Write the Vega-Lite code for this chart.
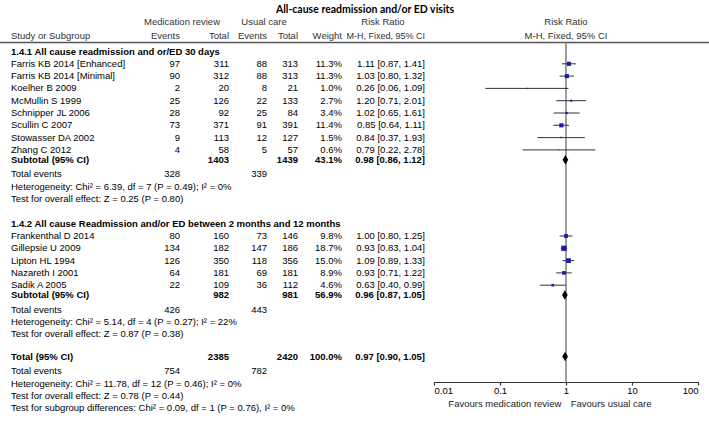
{
  "$schema": "https://vega.github.io/schema/vega-lite/v6.json",
  "width": 709,
  "height": 422,
  "padding": 0,
  "autosize": "none",
  "background": "white",
  "config": {
    "view": {"stroke": null},
    "text": {"font": "Liberation Sans", "fontSize": 9.5, "baseline": "middle", "color": "#000000"},
    "axisX": {"grid": false, "domainColor": "#333333", "domainWidth": 1.2, "tickColor": "#333333", "tickWidth": 1.2, "tickSize": 3, "labelFont": "Liberation Sans", "labelFontSize": 9.5, "labelColor": "#000000", "labelPadding": 0, "labelFlush": true}
  },
  "datasets": {
    "rows": [
      {"row": -1.26, "kind": "header", "bold": false, "label": "Study or Subgroup", "e1": "Events", "t1": "Total", "e2": "Events", "t2": "Total", "w": "Weight", "ci": "M-H, Fixed, 95% CI"},
      {"row": 0, "kind": "heading", "bold": true, "label": "1.4.1 All cause readmission and or/ED 30 days"},
      {"row": 1, "kind": "study", "bold": false, "label": "Farris KB 2014 [Enhanced]", "e1": 97, "t1": 311, "e2": 88, "t2": 313, "w": "11.3%", "wt": 11.3, "ci": "1.11 [0.87, 1.41]", "rr": 1.11, "lo": 0.87, "hi": 1.41},
      {"row": 2, "kind": "study", "bold": false, "label": "Farris KB 2014 [Minimal]", "e1": 90, "t1": 312, "e2": 88, "t2": 313, "w": "11.3%", "wt": 11.3, "ci": "1.03 [0.80, 1.32]", "rr": 1.03, "lo": 0.80, "hi": 1.32},
      {"row": 3, "kind": "study", "bold": false, "label": "Koelher B 2009", "e1": 2, "t1": 20, "e2": 8, "t2": 21, "w": "1.0%", "wt": 1.0, "ci": "0.26 [0.06, 1.09]", "rr": 0.26, "lo": 0.06, "hi": 1.09},
      {"row": 4, "kind": "study", "bold": false, "label": "McMullin S 1999", "e1": 25, "t1": 126, "e2": 22, "t2": 133, "w": "2.7%", "wt": 2.7, "ci": "1.20 [0.71, 2.01]", "rr": 1.20, "lo": 0.71, "hi": 2.01},
      {"row": 5, "kind": "study", "bold": false, "label": "Schnipper JL 2006", "e1": 28, "t1": 92, "e2": 25, "t2": 84, "w": "3.4%", "wt": 3.4, "ci": "1.02 [0.65, 1.61]", "rr": 1.02, "lo": 0.65, "hi": 1.61},
      {"row": 6, "kind": "study", "bold": false, "label": "Scullin C 2007", "e1": 73, "t1": 371, "e2": 91, "t2": 391, "w": "11.4%", "wt": 11.4, "ci": "0.85 [0.64, 1.11]", "rr": 0.85, "lo": 0.64, "hi": 1.11},
      {"row": 7, "kind": "study", "bold": false, "label": "Stowasser DA 2002", "e1": 9, "t1": 113, "e2": 12, "t2": 127, "w": "1.5%", "wt": 1.5, "ci": "0.84 [0.37, 1.93]", "rr": 0.84, "lo": 0.37, "hi": 1.93},
      {"row": 8, "kind": "study", "bold": false, "label": "Zhang C 2012", "e1": 4, "t1": 58, "e2": 5, "t2": 57, "w": "0.6%", "wt": 0.6, "ci": "0.79 [0.22, 2.78]", "rr": 0.79, "lo": 0.22, "hi": 2.78},
      {"row": 8.8, "kind": "subtotal", "bold": true, "label": "Subtotal (95% CI)", "t1": 1403, "t2": 1439, "w": "43.1%", "ci": "0.98 [0.86, 1.12]", "rr": 0.98, "lo": 0.86, "hi": 1.12},
      {"row": 10, "kind": "events", "bold": false, "label": "Total events", "e1": 328, "e2": 339},
      {"row": 11, "kind": "note", "bold": false, "label": "Heterogeneity: Chi² = 6.39, df = 7 (P = 0.49); I² = 0%"},
      {"row": 12, "kind": "note", "bold": false, "label": "Test for overall effect: Z = 0.25 (P = 0.80)"},
      {"row": 14, "kind": "heading", "bold": true, "label": "1.4.2 All cause Readmission and/or ED between 2 months and 12 months"},
      {"row": 15, "kind": "study", "bold": false, "label": "Frankenthal D 2014", "e1": 80, "t1": 160, "e2": 73, "t2": 146, "w": "9.8%", "wt": 9.8, "ci": "1.00 [0.80, 1.25]", "rr": 1.00, "lo": 0.80, "hi": 1.25},
      {"row": 16, "kind": "study", "bold": false, "label": "Gillepsie U 2009", "e1": 134, "t1": 182, "e2": 147, "t2": 186, "w": "18.7%", "wt": 18.7, "ci": "0.93 [0.83, 1.04]", "rr": 0.93, "lo": 0.83, "hi": 1.04},
      {"row": 17, "kind": "study", "bold": false, "label": "Lipton HL 1994", "e1": 126, "t1": 350, "e2": 118, "t2": 356, "w": "15.0%", "wt": 15.0, "ci": "1.09 [0.89, 1.33]", "rr": 1.09, "lo": 0.89, "hi": 1.33},
      {"row": 18, "kind": "study", "bold": false, "label": "Nazareth I 2001", "e1": 64, "t1": 181, "e2": 69, "t2": 181, "w": "8.9%", "wt": 8.9, "ci": "0.93 [0.71, 1.22]", "rr": 0.93, "lo": 0.71, "hi": 1.22},
      {"row": 19, "kind": "study", "bold": false, "label": "Sadik A 2005", "e1": 22, "t1": 109, "e2": 36, "t2": 112, "w": "4.6%", "wt": 4.6, "ci": "0.63 [0.40, 0.99]", "rr": 0.63, "lo": 0.40, "hi": 0.99},
      {"row": 19.8, "kind": "subtotal", "bold": true, "label": "Subtotal (95% CI)", "t1": 982, "t2": 981, "w": "56.9%", "ci": "0.96 [0.87, 1.05]", "rr": 0.96, "lo": 0.87, "hi": 1.05},
      {"row": 21, "kind": "events", "bold": false, "label": "Total events", "e1": 426, "e2": 443},
      {"row": 22, "kind": "note", "bold": false, "label": "Heterogeneity: Chi² = 5.14, df = 4 (P = 0.27); I² = 22%"},
      {"row": 23, "kind": "note", "bold": false, "label": "Test for overall effect: Z = 0.87 (P = 0.38)"},
      {"row": 24.8, "kind": "total", "bold": true, "label": "Total (95% CI)", "t1": 2385, "t2": 2420, "w": "100.0%", "ci": "0.97 [0.90, 1.05]", "rr": 0.97, "lo": 0.90, "hi": 1.05},
      {"row": 26, "kind": "events", "bold": false, "label": "Total events", "e1": 754, "e2": 782},
      {"row": 27, "kind": "note", "bold": false, "label": "Heterogeneity: Chi² = 11.78, df = 12 (P = 0.46); I² = 0%"},
      {"row": 28, "kind": "note", "bold": false, "label": "Test for overall effect: Z = 0.78 (P = 0.44)"},
      {"row": 29, "kind": "note", "bold": false, "label": "Test for subgroup differences: Chi² = 0.09, df = 1 (P = 0.76), I² = 0%"}
    ]
  },
  "data": {"name": "rows"},
  "layer": [
    {
      "layer": [
        {
          "data": {"values": [{"t": "All-cause readmission and/or ED visits"}]},
          "mark": {"type": "text", "align": "center", "font": "Lato", "fontSize": 10.5, "fontWeight": "bold"},
          "encoding": {
            "x": {"datum": 10, "type": "quantitative", "scale": {"type": "linear", "domain": [0, 1, 2, 3, 4, 5, 6, 7, 8, 9, 10], "range": [11, 180, 229, 267, 298, 342, 425, 182, 264, 383, 365], "zero": false, "nice": false}, "axis": null},
            "y": {"datum": -3.4, "type": "quantitative", "scale": {"domain": [-4.187, 30.122], "range": [0, 422], "zero": false, "nice": false}, "axis": null},
            "text": {"field": "t"}
          }
        },
        {
          "data": {"values": [{"t": "Medication review"}]},
          "mark": {"type": "text", "align": "center", "color": "#333333"},
          "encoding": {
            "x": {"datum": 7, "type": "quantitative", "axis": null},
            "y": {"datum": -2.4, "type": "quantitative", "axis": null},
            "text": {"field": "t"}
          }
        },
        {
          "data": {"values": [{"t": "Usual care"}]},
          "mark": {"type": "text", "align": "center", "color": "#333333"},
          "encoding": {
            "x": {"datum": 8, "type": "quantitative", "axis": null},
            "y": {"datum": -2.4, "type": "quantitative", "axis": null},
            "text": {"field": "t"}
          }
        },
        {
          "data": {"values": [{"t": "Risk Ratio"}]},
          "mark": {"type": "text", "align": "center", "color": "#333333"},
          "encoding": {
            "x": {"datum": 9, "type": "quantitative", "axis": null},
            "y": {"datum": -2.4, "type": "quantitative", "axis": null},
            "text": {"field": "t"}
          }
        },
        {
          "data": {"values": [{}]},
          "mark": {"type": "rule", "color": "#555555", "strokeWidth": 1.5},
          "encoding": {
            "y": {"datum": -0.73, "type": "quantitative", "axis": null}
          }
        },
        {
          "mark": {"type": "text", "align": "left", "fontWeight": {"expr": "datum.bold ? 'bold' : 'normal'"}},
          "encoding": {
            "x": {"datum": 0, "type": "quantitative", "axis": null},
            "y": {"field": "row", "type": "quantitative", "axis": null},
            "text": {"field": "label"},
            "color": {"condition": {"test": "datum.kind === 'header'", "value": "#333333"}, "value": "#000000"}
          }
        },
        {
          "transform": [{"filter": "isValid(datum.e1)"}],
          "mark": {"type": "text", "align": "right", "fontWeight": {"expr": "datum.bold ? 'bold' : 'normal'"}},
          "encoding": {
            "x": {"datum": 1, "type": "quantitative", "axis": null},
            "y": {"field": "row", "type": "quantitative", "axis": null},
            "text": {"field": "e1"},
            "color": {"condition": {"test": "datum.kind === 'header'", "value": "#333333"}, "value": "#000000"}
          }
        },
        {
          "transform": [{"filter": "isValid(datum.t1)"}],
          "mark": {"type": "text", "align": "right", "fontWeight": {"expr": "datum.bold ? 'bold' : 'normal'"}},
          "encoding": {
            "x": {"datum": 2, "type": "quantitative", "axis": null},
            "y": {"field": "row", "type": "quantitative", "axis": null},
            "text": {"field": "t1"},
            "color": {"condition": {"test": "datum.kind === 'header'", "value": "#333333"}, "value": "#000000"}
          }
        },
        {
          "transform": [{"filter": "isValid(datum.e2)"}],
          "mark": {"type": "text", "align": "right", "fontWeight": {"expr": "datum.bold ? 'bold' : 'normal'"}},
          "encoding": {
            "x": {"datum": 3, "type": "quantitative", "axis": null},
            "y": {"field": "row", "type": "quantitative", "axis": null},
            "text": {"field": "e2"},
            "color": {"condition": {"test": "datum.kind === 'header'", "value": "#333333"}, "value": "#000000"}
          }
        },
        {
          "transform": [{"filter": "isValid(datum.t2)"}],
          "mark": {"type": "text", "align": "right", "fontWeight": {"expr": "datum.bold ? 'bold' : 'normal'"}},
          "encoding": {
            "x": {"datum": 4, "type": "quantitative", "axis": null},
            "y": {"field": "row", "type": "quantitative", "axis": null},
            "text": {"field": "t2"},
            "color": {"condition": {"test": "datum.kind === 'header'", "value": "#333333"}, "value": "#000000"}
          }
        },
        {
          "transform": [{"filter": "isValid(datum.w)"}],
          "mark": {"type": "text", "align": "right", "fontWeight": {"expr": "datum.bold ? 'bold' : 'normal'"}},
          "encoding": {
            "x": {"datum": 5, "type": "quantitative", "axis": null},
            "y": {"field": "row", "type": "quantitative", "axis": null},
            "text": {"field": "w"},
            "color": {"condition": {"test": "datum.kind === 'header'", "value": "#333333"}, "value": "#000000"}
          }
        },
        {
          "transform": [{"filter": "isValid(datum.ci)"}],
          "mark": {"type": "text", "align": "right", "fontWeight": {"expr": "datum.bold ? 'bold' : 'normal'"}, "fontSize": {"expr": "datum.kind === 'header' ? 9 : 9.5"}},
          "encoding": {
            "x": {"datum": 6, "type": "quantitative", "axis": null},
            "y": {"field": "row", "type": "quantitative", "axis": null},
            "text": {"field": "ci"},
            "color": {"condition": {"test": "datum.kind === 'header'", "value": "#333333"}, "value": "#000000"}
          }
        }
      ]
    },
    {
      "layer": [
        {
          "data": {"values": [{}]},
          "mark": {"type": "rule", "color": "#7f7f7f", "strokeWidth": 1.5},
          "encoding": {
            "x": {"datum": 1, "type": "quantitative", "scale": {"type": "log", "domain": [0.01, 100], "range": [434, 698], "nice": false}, "axis": {"title": null, "values": [0.01, 0.1, 1, 10, 100], "format": "~g", "offset": -40}},
            "y": {"datum": -0.73, "type": "quantitative", "axis": null},
            "y2": {"datum": 26.87}
          }
        },
        {
          "transform": [{"filter": "datum.kind === 'study'"}],
          "mark": {"type": "rule", "color": "#333333", "strokeWidth": 1},
          "encoding": {
            "x": {"field": "lo", "type": "quantitative", "axis": {"title": null, "values": [0.01, 0.1, 1, 10, 100], "format": "~g", "offset": -40}},
            "x2": {"field": "hi"},
            "y": {"field": "row", "type": "quantitative", "axis": null}
          }
        },
        {
          "transform": [{"filter": "datum.kind === 'study'"}],
          "mark": {"type": "point", "shape": "square", "filled": true, "color": "#1c1ca6", "opacity": 1, "strokeWidth": 0},
          "encoding": {
            "x": {"field": "rr", "type": "quantitative", "axis": {"title": null, "values": [0.01, 0.1, 1, 10, 100], "format": "~g", "offset": -40}},
            "y": {"field": "row", "type": "quantitative", "axis": null},
            "size": {"field": "wt", "type": "quantitative", "scale": {"domain": [0, 18.7], "range": [0, 28], "zero": true}, "legend": null}
          }
        },
        {
          "transform": [{"filter": "datum.kind === 'subtotal' || datum.kind === 'total'"}],
          "mark": {"type": "point", "shape": "M-0.6,0L0,-1L0.6,0L0,1Z", "filled": true, "color": "#000000", "opacity": 1, "size": 90, "strokeWidth": 0},
          "encoding": {
            "x": {"field": "rr", "type": "quantitative", "axis": {"title": null, "values": [0.01, 0.1, 1, 10, 100], "format": "~g", "offset": -40}},
            "y": {"field": "row", "type": "quantitative", "axis": null}
          }
        },
        {
          "data": {"values": [{"t": "Risk Ratio"}]},
          "mark": {"type": "text", "align": "center", "color": "#333333"},
          "encoding": {
            "x": {"datum": 1, "type": "quantitative", "axis": {"title": null, "values": [0.01, 0.1, 1, 10, 100], "format": "~g", "offset": -40}},
            "y": {"datum": -2.4, "type": "quantitative", "axis": null},
            "text": {"field": "t"}
          }
        },
        {
          "data": {"values": [{"t": "M-H, Fixed, 95% CI"}]},
          "mark": {"type": "text", "align": "center", "color": "#333333"},
          "encoding": {
            "x": {"datum": 1, "type": "quantitative", "axis": {"title": null, "values": [0.01, 0.1, 1, 10, 100], "format": "~g", "offset": -40}},
            "y": {"datum": -1.26, "type": "quantitative", "axis": null},
            "text": {"field": "t"}
          }
        },
        {
          "data": {"values": [{"t": "Favours medication review"}]},
          "mark": {"type": "text", "align": "right", "color": "#222222"},
          "encoding": {
            "x": {"datum": 0.85, "type": "quantitative", "axis": {"title": null, "values": [0.01, 0.1, 1, 10, 100], "format": "~g", "offset": -40}},
            "y": {"datum": 28.65, "type": "quantitative", "axis": null},
            "text": {"field": "t"}
          }
        },
        {
          "data": {"values": [{"t": "Favours usual care"}]},
          "mark": {"type": "text", "align": "left", "color": "#222222"},
          "encoding": {
            "x": {"datum": 1.18, "type": "quantitative", "axis": {"title": null, "values": [0.01, 0.1, 1, 10, 100], "format": "~g", "offset": -40}},
            "y": {"datum": 28.65, "type": "quantitative", "axis": null},
            "text": {"field": "t"}
          }
        }
      ]
    }
  ],
  "resolve": {"scale": {"x": "independent"}, "axis": {"x": "independent"}}
}
